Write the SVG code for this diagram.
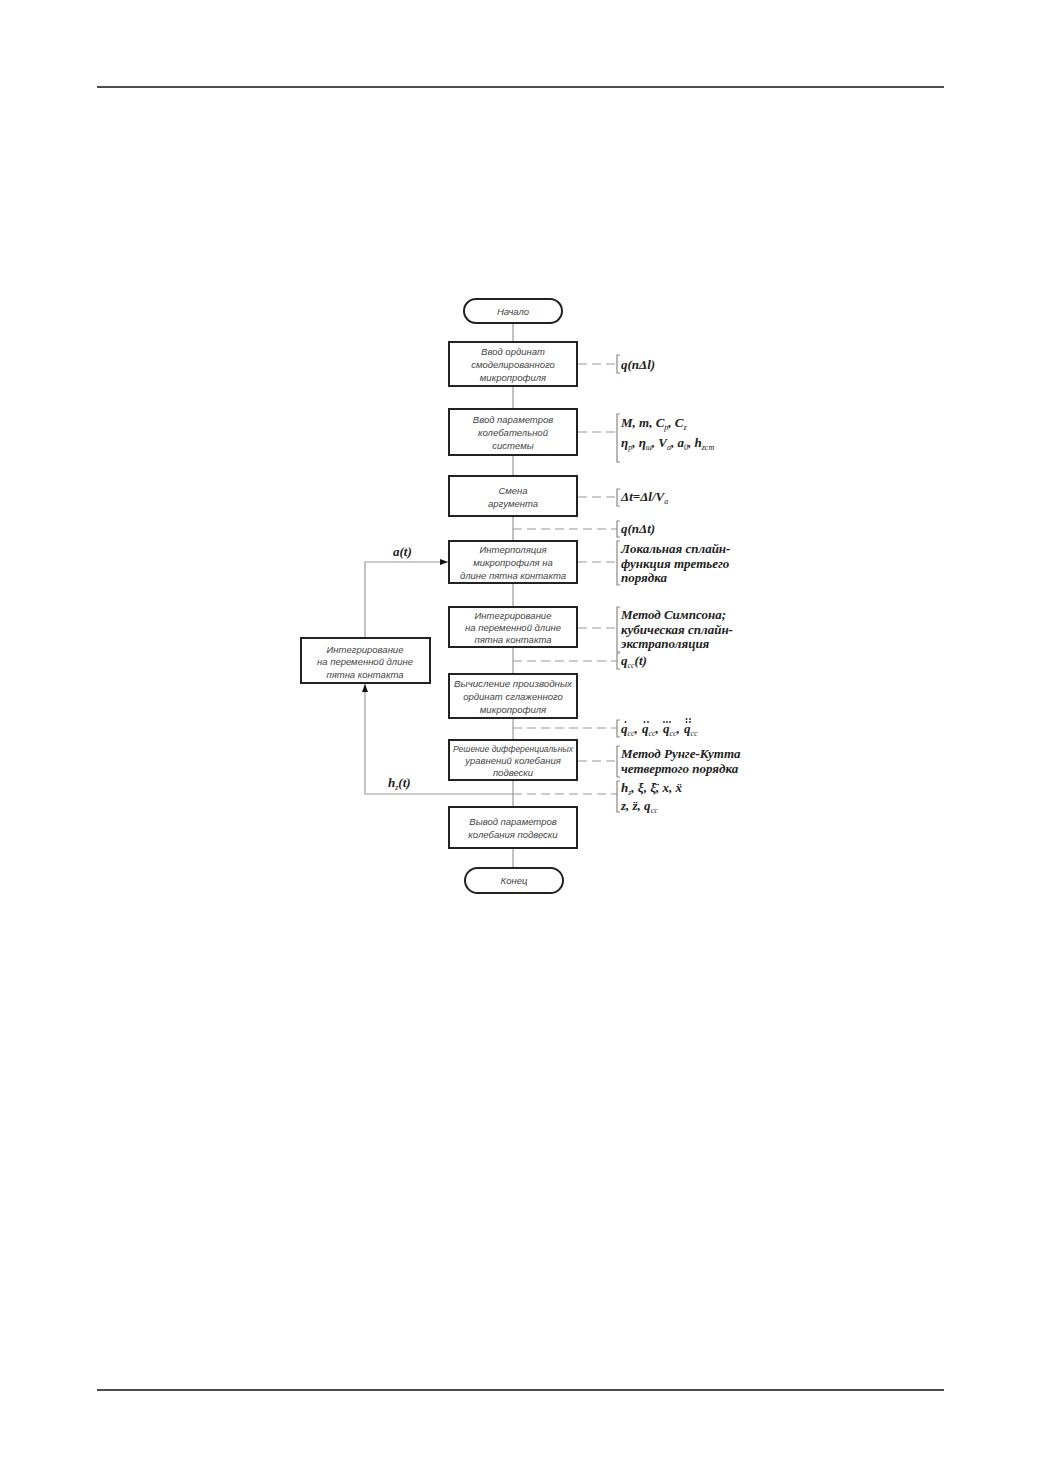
<svg xmlns="http://www.w3.org/2000/svg" width="1040" height="1473" viewBox="0 0 1040 1473">
<defs>
<marker id="arr" markerWidth="8" markerHeight="6" refX="8" refY="3" orient="auto" markerUnits="userSpaceOnUse"><path d="M0,0 L8,3 L0,6 z" fill="#111"/></marker>
<style>
.box{fill:#fff;stroke:#222;stroke-width:2}
.bt{font-family:"Liberation Sans",Arial,sans-serif;font-style:italic;font-size:9.5px;fill:#444;text-anchor:middle}
.ln{fill:none;stroke:#999;stroke-width:1.2}
.dash{fill:none;stroke:#999;stroke-width:1.2;stroke-dasharray:9,5}
.br{fill:none;stroke:#888;stroke-width:1.2}
.rt{font-family:"Liberation Serif","DejaVu Serif",serif;font-style:italic;font-weight:bold;font-size:13px;fill:#222}
.sub{font-size:8px;font-weight:normal}
.dot{fill:#222}
</style>
</defs>
<rect width="1040" height="1473" fill="#fff"/>
<line x1="97" y1="87" x2="944" y2="87" stroke="#111" stroke-width="1.5"/>
<line x1="97" y1="1390" x2="944" y2="1390" stroke="#111" stroke-width="1.5"/>

<g id="connectors">
<line class="ln" x1="513" y1="323" x2="513" y2="868"/>
<polyline class="ln" points="513,794 365,794 365,684" marker-end="url(#arr)"/>
<polyline class="ln" points="365,638 365,562 448,562" marker-end="url(#arr)"/>
<line class="dash" x1="578" y1="364" x2="617" y2="364"/>
<line class="dash" x1="578" y1="432" x2="617" y2="432"/>
<line class="dash" x1="578" y1="497" x2="617" y2="497"/>
<line class="dash" x1="513" y1="529" x2="617" y2="529"/>
<line class="dash" x1="578" y1="562" x2="617" y2="562"/>
<line class="dash" x1="578" y1="628" x2="617" y2="628"/>
<line class="dash" x1="513" y1="661" x2="617" y2="661"/>
<line class="dash" x1="513" y1="728" x2="617" y2="728"/>
<line class="dash" x1="578" y1="761" x2="617" y2="761"/>
<line class="dash" x1="513" y1="794" x2="617" y2="794"/>
<path class="br" d="M620,355 H617 V373 H620"/>
<path class="br" d="M620,414 H617 V462 H620"/>
<path class="br" d="M620,489 H617 V506 H620"/>
<path class="br" d="M620,521 H617 V537 H620"/>
<path class="br" d="M620,541 H617 V585 H620"/>
<path class="br" d="M620,607 H617 V652 H620"/>
<path class="br" d="M620,653 H617 V669 H620"/>
<path class="br" d="M620,720 H617 V737 H620"/>
<path class="br" d="M620,746 H617 V777 H620"/>
<path class="br" d="M620,781 H617 V812 H620"/>
<text class="rt" x="393" y="556">a(t)</text>
<text class="rt" x="388" y="787">h<tspan class="sub" dy="3">z</tspan><tspan dy="-3">(t)</tspan></text>
</g>

<g id="start"><rect x="464" y="299" width="98" height="24" rx="12" class="box"/><text class="bt" x="513" y="315">Начало</text></g>
<g id="n1"><rect x="449" y="342" width="128" height="44" class="box"/><text class="bt" x="513" y="355">Ввод ординат</text><text class="bt" x="513" y="368">смоделированного</text><text class="bt" x="513" y="381">микропрофиля</text></g>
<g id="n2"><rect x="449" y="409" width="128" height="46" class="box"/><text class="bt" x="513" y="423">Ввод параметров</text><text class="bt" x="513" y="436">колебательной</text><text class="bt" x="513" y="449">системы</text></g>
<g id="n3"><rect x="449" y="476" width="128" height="40" class="box"/><text class="bt" x="513" y="494">Смена</text><text class="bt" x="513" y="507">аргумента</text></g>
<g id="n4"><rect x="449" y="541" width="128" height="42" class="box"/><text class="bt" x="513" y="553">Интерполяция</text><text class="bt" x="513" y="566">микропрофиля на</text><text class="bt" x="513" y="579">длине пятна контакта</text></g>
<g id="n5"><rect x="449" y="607" width="128" height="40" class="box"/><text class="bt" x="513" y="619">Интегрирование</text><text class="bt" x="513" y="631">на переменной длине</text><text class="bt" x="513" y="643">пятна контакта</text></g>
<g id="n6"><rect x="449" y="674" width="128" height="44" class="box"/><text class="bt" x="513" y="687" textLength="118" lengthAdjust="spacingAndGlyphs">Вычисление производных</text><text class="bt" x="513" y="700">ординат сглаженного</text><text class="bt" x="513" y="713">микропрофиля</text></g>
<g id="n7"><rect x="449" y="740" width="128" height="40" class="box"/><text class="bt" x="513" y="752" textLength="120" lengthAdjust="spacingAndGlyphs">Решение дифференциальных</text><text class="bt" x="513" y="764">уравнений колебания</text><text class="bt" x="513" y="776">подвески</text></g>
<g id="n8"><rect x="449" y="807" width="128" height="41" class="box"/><text class="bt" x="513" y="825">Вывод параметров</text><text class="bt" x="513" y="838">колебания подвески</text></g>
<g id="end"><rect x="465" y="868" width="98" height="25" rx="12.5" class="box"/><text class="bt" x="514" y="884">Конец</text></g>
<g id="side"><rect x="301" y="638" width="129" height="45" class="box"/><text class="bt" x="365" y="653">Интегрирование</text><text class="bt" x="365" y="665">на переменной длине</text><text class="bt" x="365" y="678">пятна контакта</text></g>

<g id="labels">
<text class="rt" x="621" y="369">q(nΔl)</text>
<text class="rt" x="621" y="427">M, m, C<tspan class="sub" dy="3">p</tspan><tspan dy="-3">, C</tspan><tspan class="sub" dy="3">z</tspan></text>
<text class="rt" x="621" y="447">η<tspan class="sub" dy="3">p</tspan><tspan dy="-3">, η</tspan><tspan class="sub" dy="3">ш</tspan><tspan dy="-3">, V</tspan><tspan class="sub" dy="3">a</tspan><tspan dy="-3">, a</tspan><tspan class="sub" dy="3">0</tspan><tspan dy="-3">, h</tspan><tspan class="sub" dy="3">zcm</tspan></text>
<text class="rt" x="621" y="501">Δt=Δl/V<tspan class="sub" dy="3">a</tspan></text>
<text class="rt" x="621" y="533">q(nΔt)</text>
<text class="rt" x="621" y="553">Локальная сплайн-</text>
<text class="rt" x="621" y="568">функция третьего</text>
<text class="rt" x="621" y="582">порядка</text>
<text class="rt" x="621" y="619">Метод Симпсона;</text>
<text class="rt" x="621" y="634">кубическая сплайн-</text>
<text class="rt" x="621" y="648">экстраполяция</text>
<text class="rt" x="621" y="665">q<tspan class="sub" dy="3">cc</tspan><tspan dy="-3">(t)</tspan></text>
<text class="rt" x="621" y="733">q<tspan class="sub" dy="3">cc</tspan><tspan dy="-3">,</tspan></text>
<text class="rt" x="642" y="733">q<tspan class="sub" dy="3">cc</tspan><tspan dy="-3">,</tspan></text>
<text class="rt" x="663" y="733">q<tspan class="sub" dy="3">cc</tspan><tspan dy="-3">,</tspan></text>
<text class="rt" x="684" y="733">q<tspan class="sub" dy="3">cc</tspan></text>
<circle class="dot" cx="625.5" cy="722" r="0.9"/>
<circle class="dot" cx="644.5" cy="722" r="0.9"/><circle class="dot" cx="648" cy="722" r="0.9"/>
<circle class="dot" cx="664" cy="722" r="0.9"/><circle class="dot" cx="667" cy="722" r="0.9"/><circle class="dot" cx="670" cy="722" r="0.9"/>
<circle class="dot" cx="686.5" cy="722" r="0.9"/><circle class="dot" cx="690" cy="722" r="0.9"/><circle class="dot" cx="686.5" cy="719" r="0.9"/><circle class="dot" cx="690" cy="719" r="0.9"/>
<text class="rt" x="621" y="758">Метод Рунге-Кутта</text>
<text class="rt" x="621" y="773">четвертого порядка</text>
<text class="rt" x="621" y="792">h<tspan class="sub" dy="3">z</tspan><tspan dy="-3">, ξ, ξ̈, x, ẍ</tspan></text>
<text class="rt" x="621" y="810">z, z̈, q<tspan class="sub" dy="3">cc</tspan></text>
</g>
</svg>
